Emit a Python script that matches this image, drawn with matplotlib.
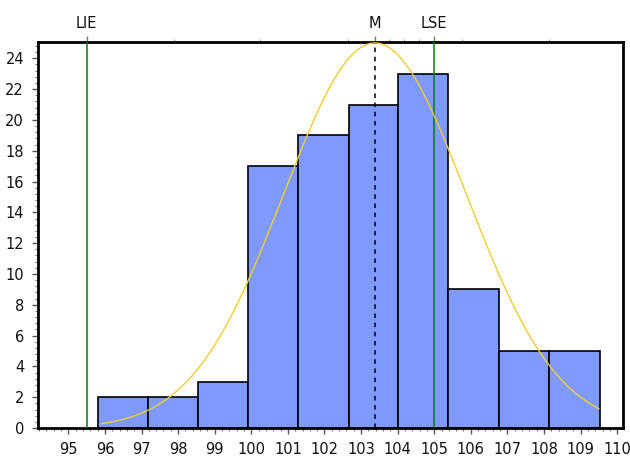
import numpy as np
import matplotlib
matplotlib.use("Agg")
import matplotlib.pyplot as plt
from matplotlib.ticker import MultipleLocator, AutoMinorLocator

# --- data ---
bin_edges = [95.80, 97.17, 98.54, 99.91, 101.28, 102.66, 104.02, 105.39, 106.77, 108.14, 109.52]
counts = [2, 2, 3, 17, 19, 21, 23, 9, 5, 5]
LIE = 95.5
LSE = 105.0
M = 103.38
sigma = 2.5
curve_peak = 25.0
curve_range = (95.9, 109.5)
top_ticks = [97.88, 100.24, 102.63, 103.77, 104.18, 104.59, 105.77, 108.13]
x_ticks = list(range(95, 111))
y_ticks = list(range(0, 25, 2))

fig = plt.figure(figsize=(6.3, 4.57), dpi=100)
ax = fig.add_axes([38/630, 1-428/457, (623-38)/630, (428-42)/457])

lefts = bin_edges[:-1]
widths = np.diff(bin_edges)
ax.bar(lefts, counts, width=widths, align='edge', color='#7F9AFE',
       edgecolor='black', linewidth=1.2, zorder=2)

xs = np.linspace(curve_range[0], curve_range[1], 300)
ys = curve_peak*np.exp(-0.5*((xs-M)/sigma)**2)
ax.plot(xs, ys, color='#F2CC30', linewidth=1.0, zorder=4)

ax.axvline(LIE, color='#008000', linewidth=1.1, zorder=3)
ax.axvline(LSE, color='#008000', linewidth=1.1, zorder=3)
ax.axvline(M, color='black', linewidth=1.1, linestyle=(0, (3, 3)), zorder=3)

ax.set_xlim(94.17, 110.16)
ax.set_ylim(0, 25.06)
ax.set_xticks(x_ticks)
ax.xaxis.set_minor_locator(AutoMinorLocator(5))
ax.set_yticks(y_ticks)
ax.yaxis.set_minor_locator(AutoMinorLocator(5))

for s in ax.spines.values():
    s.set_linewidth(2.0)
    s.set_color('black')

ax.tick_params(axis='both', which='major', length=4, width=1, color='#555555',
               labelsize=10.5, labelcolor='#111111', pad=6)
ax.tick_params(axis='both', which='minor', length=2.5, width=0.8, color='#777777')

# top axis with specification labels
sec = ax.secondary_xaxis('top')
sec.set_xticks([LIE, M, LSE])
sec.set_xticklabels(['LIE', 'M', 'LSE'])
sec.set_xticks(top_ticks, minor=True)
sec.tick_params(axis='x', which='major', length=4, width=1, color='#777777',
                labelsize=10.5, labelcolor='#111111', pad=4)
sec.tick_params(axis='x', which='minor', length=2.5, width=0.8, color='#999999')
sec.spines['top'].set_visible(False)

fig.savefig('out.png', dpi=100)
